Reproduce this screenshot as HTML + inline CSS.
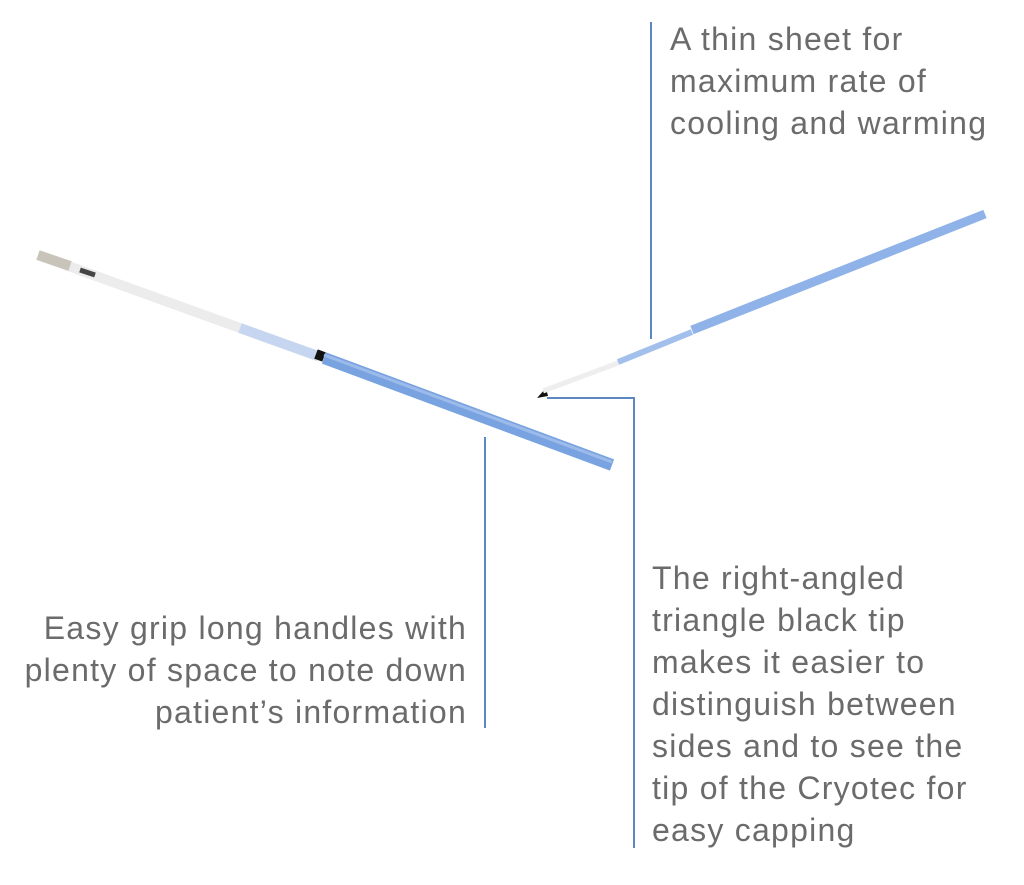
<!DOCTYPE html>
<html><head><meta charset="utf-8"><style>
html,body{margin:0;padding:0;background:#fff;width:1024px;height:885px;overflow:hidden;position:relative}
.t{position:absolute;font-family:"Liberation Sans",sans-serif;font-size:32px;letter-spacing:1.25px;line-height:42px;color:#6b6b6b;white-space:nowrap}
</style></head><body>
<svg width="1024" height="885" style="position:absolute;left:0;top:0">
<!-- left stick -->
<line x1="38" y1="255" x2="320" y2="357" stroke="#ececec" stroke-width="10"/>
<line x1="38" y1="255" x2="70" y2="266" stroke="#c8c4ba" stroke-width="10"/>
<line x1="80" y1="270" x2="95" y2="275" stroke="#444" stroke-width="5"/>
<line x1="240" y1="328" x2="318" y2="356" stroke="#c6d6f0" stroke-width="10"/>
<line x1="316" y1="354" x2="324" y2="357" stroke="#111" stroke-width="10"/>
<line x1="324" y1="358" x2="612" y2="465" stroke="#79a3e0" stroke-width="12"/>
<line x1="324" y1="355" x2="612" y2="462" stroke="#9cbbea" stroke-width="3"/>
<!-- right stick -->
<polygon points="537,398 546,388 548,396" fill="#111"/>
<line x1="543" y1="391" x2="618" y2="363" stroke="#eeeeee" stroke-width="5"/>
<line x1="618" y1="362" x2="692" y2="332" stroke="#a3c0ec" stroke-width="6"/>
<line x1="692" y1="330" x2="985" y2="214" stroke="#8fb2e8" stroke-width="9"/>
<!-- connectors -->
<g stroke="#5d87c2" stroke-width="2" fill="none">
<line x1="651" y1="22" x2="651" y2="339"/>
<polyline points="547,398 634,398 634,848"/>
<line x1="485" y1="437" x2="485" y2="728"/>
</g>
</svg>
<div class="t" style="left:670px;top:18px">A thin sheet for<br>maximum rate of<br>cooling and warming</div>
<div class="t" style="left:652px;top:557px">The right-angled<br>triangle black tip<br>makes it easier to<br>distinguish between<br>sides and to see the<br>tip of the Cryotec for<br>easy capping</div>
<div class="t" style="right:557px;top:607px;text-align:right">Easy grip long handles with<br>plenty of space to note down<br>patient’s information</div>
</body></html>
